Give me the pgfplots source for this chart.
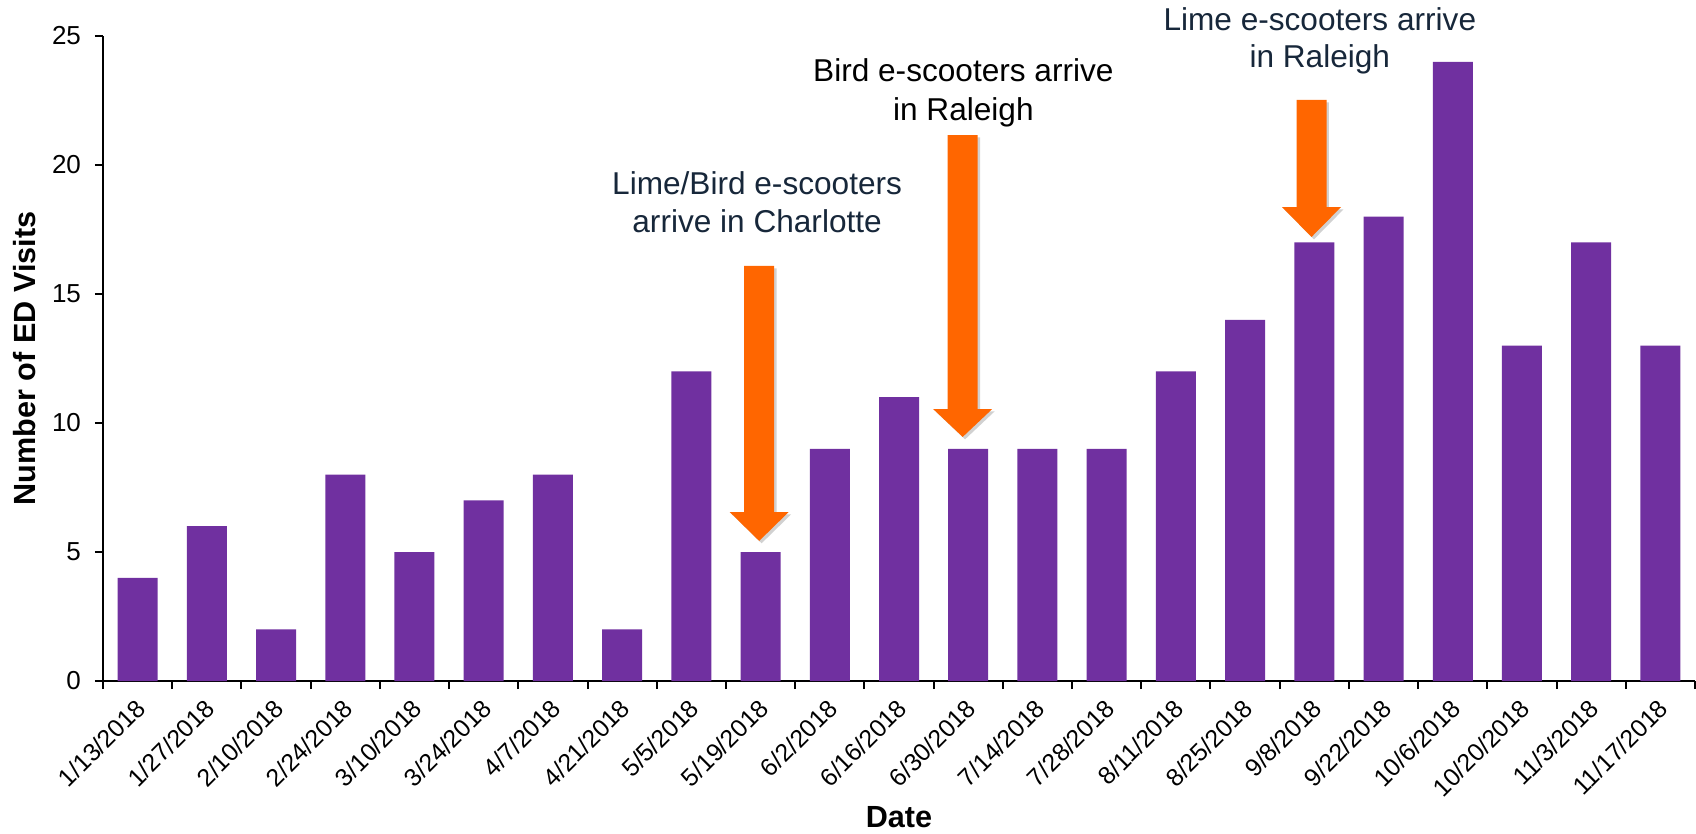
\documentclass[border=0pt]{standalone}
\usepackage{fontspec}
\setmainfont{Liberation Sans}
\usepackage{pgfplots}
\pgfplotsset{compat=1.18}
\definecolor{barpurple}{HTML}{7030A0}
\definecolor{arroworange}{HTML}{FF6600}
\definecolor{navytext}{HTML}{17273A}

\newcommand{\scooterarrow}[4]{%
  % #1 x, #2 top, #3 head base, #4 tip
  \fill[black, opacity=0.18] ([shift={(-7.5pt+1.2pt,-1.2pt)}]axis cs:#1,#2) -- ([shift={(7.5pt+1.2pt,-1.2pt)}]axis cs:#1,#2)
    -- ([shift={(7.5pt+1.2pt,-1.2pt)}]axis cs:#1,#3) -- ([shift={(14.75pt+1.2pt,-1.2pt)}]axis cs:#1,#3)
    -- ([shift={(1.2pt,-1.2pt)}]axis cs:#1,#4) -- ([shift={(-14.75pt+1.2pt,-1.2pt)}]axis cs:#1,#3)
    -- ([shift={(-7.5pt+1.2pt,-1.2pt)}]axis cs:#1,#3) -- cycle;
  \fill[arroworange] ([xshift=-7.5pt]axis cs:#1,#2) -- ([xshift=7.5pt]axis cs:#1,#2)
    -- ([xshift=7.5pt]axis cs:#1,#3) -- ([xshift=14.75pt]axis cs:#1,#3)
    -- (axis cs:#1,#4) -- ([xshift=-14.75pt]axis cs:#1,#3)
    -- ([xshift=-7.5pt]axis cs:#1,#3) -- cycle;
}

\begin{document}
\begin{tikzpicture}
\begin{axis}[
  scale only axis, width=796pt, height=322.5pt,
  xmin=-0.5, xmax=22.5, ymin=0, ymax=25,
  axis lines*=left,
  axis line style={line width=1pt, black},
  ybar, bar width=20pt,
  xtick={-0.5,0.5,...,22.5},
  xticklabels={},
  extra x ticks={0,1,...,22},
  extra x tick labels={1/13/2018,1/27/2018,2/10/2018,2/24/2018,3/10/2018,3/24/2018,4/7/2018,4/21/2018,5/5/2018,5/19/2018,6/2/2018,6/16/2018,6/30/2018,7/14/2018,7/28/2018,8/11/2018,8/25/2018,9/8/2018,9/22/2018,10/6/2018,10/20/2018,11/3/2018,11/17/2018},
  extra x tick style={major tick length=0pt},
  xticklabel style={xshift=4pt, yshift=-9pt, rotate=45, anchor=east, font=\fontsize{12.4}{14}\selectfont},
  ytick={0,5,...,25},
  yticklabel style={xshift=-3.5pt, font=\fontsize{13}{15}\selectfont},
  tick align=outside,
  major tick length=4pt,
  tick style={line width=1pt, black},
  /pgf/number format/assume math mode=true,
  xlabel={Date},
  ylabel={Number of ED Visits},
  every axis x label/.style={at={(axis description cs:0.5,0)}, anchor=base, yshift=-73pt, font=\bfseries\fontsize{15.3}{18}\selectfont},
  every axis y label/.style={at={(axis description cs:-0.049,0.5)}, anchor=center, rotate=90, font=\bfseries\fontsize{15.3}{18}\selectfont},
  clip=false,
]
\addplot[fill=barpurple, draw=none] coordinates {
(0,4) (1,6) (2,2) (3,8) (4,5) (5,7) (6,8) (7,2) (8,12) (9,5) (10,9) (11,11)
(12,9) (13,9) (14,9) (15,12) (16,14) (17,17) (18,18) (19,24) (20,13) (21,17) (22,13)
};
\scooterarrow{8.98}{16.09}{6.55}{5.43}
\scooterarrow{11.92}{21.16}{10.54}{9.46}
\scooterarrow{16.96}{22.52}{18.37}{17.21}
\node[anchor=base, text=navytext, font=\fontsize{15.8}{19}\selectfont] at (axis cs:8.95,18.84) {Lime/Bird e-scooters};
\node[anchor=base, text=navytext, font=\fontsize{15.8}{19}\selectfont] at (axis cs:8.95,17.40) {arrive in Charlotte};
\node[anchor=base, text=black, font=\fontsize{15.8}{19}\selectfont] at (axis cs:11.93,23.22) {Bird e-scooters arrive};
\node[anchor=base, text=black, font=\fontsize{15.8}{19}\selectfont] at (axis cs:11.93,21.74) {in Raleigh};
\node[anchor=base, text=navytext, font=\fontsize{15.8}{19}\selectfont] at (axis cs:17.08,25.23) {Lime e-scooters arrive};
\node[anchor=base, text=navytext, font=\fontsize{15.8}{19}\selectfont] at (axis cs:17.08,23.76) {in Raleigh};
\coordinate (BL) at (rel axis cs:0,0);
\coordinate (TR) at (rel axis cs:1,1);
\end{axis}
\pgfresetboundingbox
\useasboundingbox ([shift={(-51.5pt,-76.5pt)}]BL) rectangle ([shift={(0.5pt,18pt)}]TR);
\end{tikzpicture}
\end{document}
